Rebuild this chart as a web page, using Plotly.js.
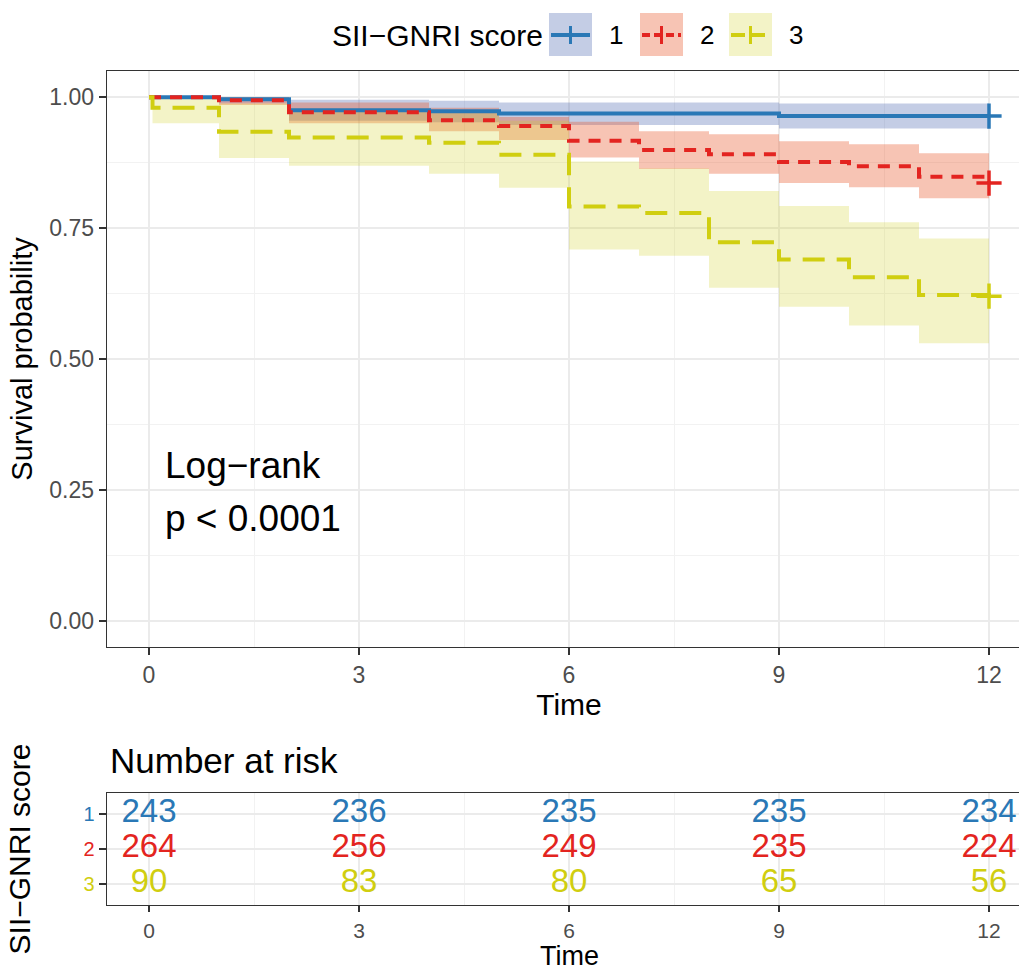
<!DOCTYPE html>
<html>
<head>
<meta charset="utf-8">
<script src="https://cdn.plot.ly/plotly-3.0.1.min.js"></script>
<style>
  html, body { margin: 0; padding: 0; overflow: hidden; background: #fff; }
  #chart { width: 1040px; height: 974px; }
</style>
</head>
<body>
<div id="chart"></div>
<script>
// ---- data ----
const groupNames = ['1', '2', '3'];
const lineColors = ['#2A78B6', '#E32420', '#D0CE10'];
const bandColors = ['rgba(60,90,170,0.30)', 'rgba(232,85,40,0.35)', 'rgba(206,206,30,0.25)'];
const lineDashes = ['solid', '12px,9px', '22px,12px'];

const time1  = [0, 1, 2, 4, 5, 9, 12];
const surv1  = [1.000, 0.996, 0.975, 0.973, 0.969, 0.964, 0.964];
const lower1 = [1.000, 0.988, 0.955, 0.952, 0.947, 0.940, 0.940];
const upper1 = [1.000, 1.000, 0.995, 0.993, 0.990, 0.988, 0.988];

const time2  = [0, 1, 2, 4, 5, 6, 7, 8, 9, 10, 11, 12];
const surv2  = [1.000, 0.994, 0.971, 0.956, 0.945, 0.917, 0.899, 0.891, 0.876, 0.868, 0.848, 0.836];
const lower2 = [1.000, 0.985, 0.950, 0.935, 0.918, 0.885, 0.863, 0.854, 0.836, 0.828, 0.807, 0.807];
const upper2 = [1.000, 1.000, 0.990, 0.980, 0.962, 0.953, 0.935, 0.929, 0.916, 0.910, 0.893, 0.893];

const time3  = [0, 0.05, 1, 2, 4, 5, 6, 7, 8, 9, 10, 11, 12];
const surv3  = [1.000, 0.980, 0.934, 0.923, 0.913, 0.890, 0.791, 0.779, 0.723, 0.690, 0.656, 0.622, 0.620];
const lower3 = [1.000, 0.950, 0.884, 0.869, 0.854, 0.827, 0.709, 0.697, 0.636, 0.600, 0.564, 0.530, 0.530];
const upper3 = [1.000, 0.997, 0.988, 0.978, 0.970, 0.955, 0.877, 0.864, 0.821, 0.792, 0.761, 0.730, 0.730];

const riskTimes = [0, 3, 6, 9, 12];
const risk1 = [243, 236, 235, 235, 234];
const risk2 = [264, 256, 249, 235, 224];
const risk3 = [90, 83, 80, 65, 56];

const yTickVals = [0, 0.25, 0.5, 0.75, 1];
const yTickText = ['0.00', '0.25', '0.50', '0.75', '1.00'];
const xTickVals = [0, 3, 6, 9, 12];

// ---- build traces ----
const FONT = 'Liberation Sans, Arial, Helvetica, sans-serif';
const series = [
  {t: time1, s: surv1, lo: lower1, hi: upper1},
  {t: time2, s: surv2, lo: lower2, hi: upper2},
  {t: time3, s: surv3, lo: lower3, hi: upper3}
];
const risks = [risk1, risk2, risk3];

const traces = [];
series.forEach((g, i) => {
  traces.push({
    x: g.t, y: g.lo, type: 'scatter', mode: 'lines',
    line: {shape: 'hv', width: 0, color: 'rgba(0,0,0,0)'},
    showlegend: false, hoverinfo: 'skip', xaxis: 'x', yaxis: 'y'
  });
  traces.push({
    x: g.t, y: g.hi, type: 'scatter', mode: 'lines',
    line: {shape: 'hv', width: 0, color: 'rgba(0,0,0,0)'},
    fill: 'tonexty', fillcolor: bandColors[i],
    showlegend: false, hoverinfo: 'skip', xaxis: 'x', yaxis: 'y'
  });
});
series.forEach((g, i) => {
  traces.push({
    x: g.t, y: g.s, type: 'scatter', mode: 'lines',
    line: {shape: 'hv', width: 4, color: lineColors[i], dash: lineDashes[i]},
    showlegend: false, name: groupNames[i], xaxis: 'x', yaxis: 'y'
  });
});
series.forEach((g, i) => {
  const n = g.t.length - 1;
  traces.push({
    x: [g.t[n]], y: [g.s[n]], type: 'scatter', mode: 'markers',
    marker: {symbol: 'cross-thin', size: 18, line: {width: 3.5, color: lineColors[i]}},
    showlegend: false, hoverinfo: 'skip', xaxis: 'x', yaxis: 'y'
  });
});
risks.forEach((r, i) => {
  traces.push({
    x: riskTimes, y: riskTimes.map(() => i + 1), type: 'scatter', mode: 'text',
    text: r.map(String), textposition: 'middle center',
    textfont: {family: FONT, size: 33, color: lineColors[i]},
    showlegend: false, hoverinfo: 'skip', xaxis: 'x2', yaxis: 'y2'
  });
});

// ---- layout helpers (pixel -> paper) ----
const W = 1040, H = 974, ML = 107, MR = 9, MT = 0, MB = 69;
const PW = W - ML - MR;
const PH = H - MT - MB;
const px2x = p => (p - ML) / PW;
const py = p => 1 - (p - MT) / PH;

// legend (drawn as keys: shaded box + line + censor cross)
const legendBoxLeft = [549, 640, 729];
const legendBoxW = 43, legendTop = 13, legendBottom = 56, legendMid = 35;
const shapes = [];
const annotations = [];
groupNames.forEach((g, i) => {
  const x0 = legendBoxLeft[i], x1 = x0 + legendBoxW, xc = (x0 + x1) / 2;
  shapes.push({type: 'rect', xref: 'paper', yref: 'paper', layer: 'above',
    x0: px2x(x0), x1: px2x(x1), y0: py(legendBottom), y1: py(legendTop),
    fillcolor: bandColors[i], line: {width: 0}});
  shapes.push({type: 'line', xref: 'paper', yref: 'paper', layer: 'above',
    x0: px2x(x0 + 2), x1: px2x(x1 - 2), y0: py(legendMid), y1: py(legendMid),
    line: {color: lineColors[i], width: 4, dash: i === 0 ? 'solid' : (i === 1 ? '8px,4px' : '14px,6px')}});
  shapes.push({type: 'line', xref: 'paper', yref: 'paper', layer: 'above',
    x0: px2x(xc), x1: px2x(xc), y0: py(legendMid + 9), y1: py(legendMid - 9),
    line: {color: lineColors[i], width: 3}});
  annotations.push({xref: 'paper', yref: 'paper', x: px2x(x1 + 24), y: py(legendMid),
    xanchor: 'center', yanchor: 'middle', text: g, showarrow: false,
    font: {family: FONT, size: 26, color: '#000'}});
});
annotations.push({xref: 'paper', yref: 'paper', x: px2x(545), y: py(legendMid),
  xanchor: 'right', yanchor: 'middle', text: 'SII\u2212GNRI score', showarrow: false,
  font: {family: FONT, size: 30, color: '#000'}});

annotations.push(
  {xref: 'x', yref: 'y', x: 0.2, y: 0.296, xanchor: 'left', yanchor: 'middle',
   text: 'Log\u2212rank', showarrow: false, font: {family: FONT, size: 37, color: '#000'}},
  {xref: 'x', yref: 'y', x: 0.2, y: 0.196, xanchor: 'left', yanchor: 'middle',
   text: 'p < 0.0001', showarrow: false, font: {family: FONT, size: 37, color: '#000'}},
  {xref: 'x2', yref: 'paper', x: -0.58, y: py(760), xanchor: 'left', yanchor: 'middle',
   text: 'Number at risk', showarrow: false, font: {family: FONT, size: 35, color: '#000'}},
  // x-axis title of the risk table (kept below its tick labels)
  {xref: 'paper', yref: 'paper', x: 0.5, y: py(956), xanchor: 'center', yanchor: 'middle',
   text: 'Time', showarrow: false, font: {family: FONT, size: 27, color: '#000'}}
);

const axisCommon = {
  showline: true, mirror: true, linecolor: '#333333', linewidth: 1.3,
  ticks: 'outside', ticklen: 7, tickwidth: 2, tickcolor: '#333333',
  tickfont: {family: FONT, size: 23, color: '#4D4D4D'},
  gridcolor: '#EBEBEB', gridwidth: 1.8, zeroline: false, automargin: false
};

const layout = {
  width: W, height: H,
  margin: {l: ML, r: MR, t: MT, b: MB},
  paper_bgcolor: '#ffffff', plot_bgcolor: '#ffffff',
  font: {family: FONT, color: '#000'},
  showlegend: false,
  shapes: shapes,
  annotations: annotations,
  xaxis: Object.assign({}, axisCommon, {
    domain: [0, 1], anchor: 'y', range: [-0.6, 12.6],
    tickvals: xTickVals,
    minor: {dtick: 1.5, tick0: 0, showgrid: true, gridcolor: '#F2F2F2', gridwidth: 1, ticks: ''},
    title: {text: 'Time', font: {family: FONT, size: 30, color: '#000'}, standoff: 0}
  }),
  yaxis: Object.assign({}, axisCommon, {
    domain: [py(647), py(71)], anchor: 'x', range: [-0.05, 1.05],
    tickvals: yTickVals, ticktext: yTickText,
    minor: {dtick: 0.125, tick0: 0, showgrid: true, gridcolor: '#F2F2F2', gridwidth: 1, ticks: ''},
    title: {text: 'Survival probability', font: {family: FONT, size: 29, color: '#000'}, standoff: 8}
  }),
  xaxis2: Object.assign({}, axisCommon, {
    domain: [0, 1], anchor: 'y2', range: [-0.6, 12.6],
    tickvals: xTickVals, ticklen: 6,
    tickfont: {family: FONT, size: 21, color: '#4D4D4D'},
    minor: {dtick: 1.5, tick0: 0, showgrid: true, gridcolor: '#F2F2F2', gridwidth: 1, ticks: ''}
  }),
  yaxis2: Object.assign({}, axisCommon, {
    domain: [py(905), py(793)], anchor: 'x2', range: [3.6, 0.4],
    tickvals: [1, 2, 3],
    ticktext: groupNames.map((g, i) => '<span style="color:' + lineColors[i] + '">' + g + '</span>'),
    tickfont: {family: FONT, size: 20, color: '#4D4D4D'},
    title: {text: 'SII\u2212GNRI score', font: {family: FONT, size: 30, color: '#000'}, standoff: 44}
  })
};

Plotly.newPlot('chart', traces, layout, {displayModeBar: false, staticPlot: true});
</script>
</body>
</html>
